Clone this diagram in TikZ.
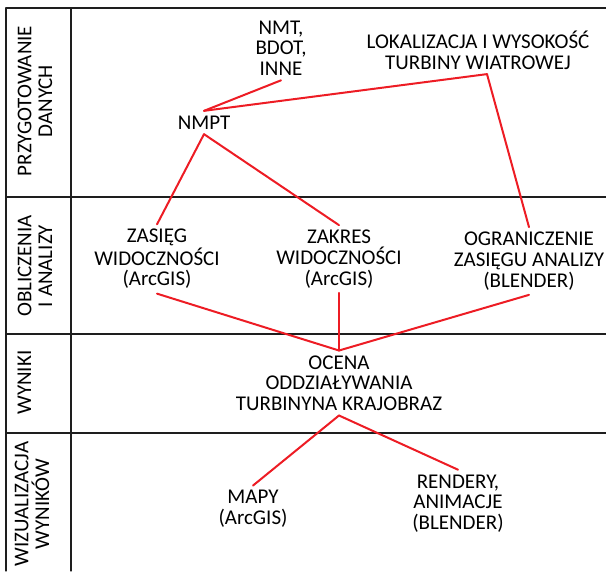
\documentclass[tikz,border=0pt]{standalone}
\usepackage{fontspec}
\setmainfont{Carlito}
\usetikzlibrary{calc}
\definecolor{ccred}{RGB}{237,28,36}
\definecolor{ccframe}{RGB}{30,30,30}

\begin{document}
\begin{tikzpicture}[line cap=round,line join=round,x=0.75pt,y=-0.75pt,
    every node/.style={font=\fontsize{15.75}{15.5}\selectfont,align=center,inner xsep=0pt,inner ysep=3.5pt},
    rowlab/.style={rotate=90},
    redline/.style={color=ccred,line width=1.5pt}]
      \useasboundingbox (0.,0.) rectangle (606.,571.);
      % table
      \draw [line width=0.8pt,color=ccframe] (606.,8.)-- (6.,8.)-- (6.,571.);
      \draw [line width=0.8pt,color=ccframe] (71.,8.)-- (71.,571.);
      \draw [line width=0.8pt,color=ccframe] (6.,197.)-- (606.,197.);
      \draw [line width=0.8pt,color=ccframe] (6.,334.)-- (606.,334.);
      \draw [line width=0.8pt,color=ccframe] (6.,433.)-- (606.,433.);
      % row labels
      \node [rowlab] (przyg) at (35.,101.) {PRZYGOTOWANIE\\DANYCH};
      \node [rowlab] (oblicz) at (35.,266.) {OBLICZENIA\\I ANALIZY};
      \node [rowlab] (wyniki) at (24.5,382.5) {WYNIKI};
      \node [rowlab] (wizual) at (32.,504.) {WIZUALIZACJA\\WYNIKÓW};
      % boxes
      \node (inne) at (281.,48.) {NMT,\\BDOT,\\INNE};
      \node (lok) at (478.,50.) {LOKALIZACJA I WYSOKOŚĆ\\TURBINY WIATROWEJ};
      \node (nmpt) at (204.,122.5) {NMPT};
      \node (zasieg) at (157.,259.) {ZASIĘG\\WIDOCZNOŚCI\\(ArcGIS)};
      \node (zakres) at (339.,259.) {ZAKRES\\WIDOCZNOŚCI\\(ArcGIS)};
      \node (ogr) at (529.,261.) {OGRANICZENIE\\ZASIĘGU ANALIZY\\(BLENDER)};
      \node (ocena) at (339.,383.) {OCENA\\ODDZIAŁYWANIA\\TURBINYNA KRAJOBRAZ};
      \node (mapy) at (253.,509.) {MAPY\\(ArcGIS)};
      \node (rendery) at (458.,503.5) {RENDERY,\\ANIMACJE\\(BLENDER)};
      % links
      \draw [redline] (inne.south)-- (nmpt.north);
      \draw [redline] ($(lok.south)+(9.,0.)$)-- (nmpt.north);
      \draw [redline] ($(lok.south)+(9.,0.)$)-- (ogr.north);
      \draw [redline] (nmpt.south)-- (zasieg.north);
      \draw [redline] (nmpt.south)-- (zakres.north);
      \draw [redline] (zasieg.south)-- (ocena.north);
      \draw [redline] (zakres.south)-- (ocena.north);
      \draw [redline] (ogr.south)-- (ocena.north);
      \draw [redline] (ocena.south)-- (mapy.north);
      \draw [redline] (ocena.south)-- (rendery.north);
    \end{tikzpicture}
\end{document}
